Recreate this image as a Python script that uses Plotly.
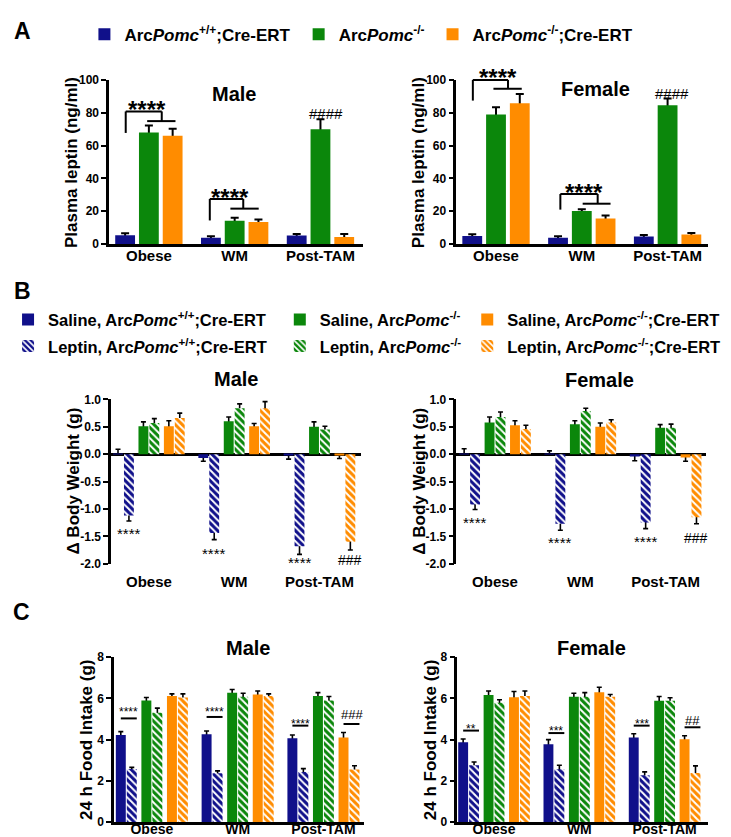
import plotly.graph_objects as go

W, H = 731, 837
FONT = "Liberation Sans, Arial, sans-serif"
BLUE = "#10108a"
GREEN = "#0b870b"
ORANGE = "#ff8c00"

groups = ["Obese", "WM", "Post-TAM"]

# ---------------- Panel A: plasma leptin (ng/ml) ----------------
a_male_wt = [5.4, 3.8, 5.2]
a_male_wt_err = [1.2, 1.0, 1.0]
a_male_ko = [68.0, 14.2, 70.0]
a_male_ko_err = [4.2, 1.8, 6.0]
a_male_kocre = [66.0, 13.4, 4.4]
a_male_kocre_err = [4.2, 1.6, 1.8]

a_female_wt = [5.0, 3.8, 4.6]
a_female_wt_err = [1.0, 1.0, 1.0]
a_female_ko = [79.0, 20.2, 84.6]
a_female_ko_err = [4.4, 1.0, 4.0]
a_female_kocre = [85.8, 15.6, 5.8]
a_female_kocre_err = [5.6, 1.8, 1.0]

# ---------------- Panel B: delta body weight (g) ----------------
b_male_sal_wt = [0.01, -0.07, -0.02]
b_male_sal_wt_err = [0.08, 0.06, 0.07]
b_male_lep_wt = [-1.12, -1.44, -1.68]
b_male_lep_wt_err = [0.10, 0.12, 0.15]
b_male_sal_ko = [0.51, 0.60, 0.50]
b_male_sal_ko_err = [0.08, 0.08, 0.09]
b_male_lep_ko = [0.57, 0.84, 0.45]
b_male_lep_ko_err = [0.08, 0.08, 0.06]
b_male_sal_kocre = [0.51, 0.51, -0.02]
b_male_sal_kocre_err = [0.10, 0.05, 0.06]
b_male_lep_kocre = [0.66, 0.84, -1.60]
b_male_lep_kocre_err = [0.09, 0.12, 0.15]

b_female_sal_wt = [0.01, 0.01, -0.04]
b_female_sal_wt_err = [0.09, 0.05, 0.08]
b_female_lep_wt = [-0.92, -1.27, -1.25]
b_female_lep_wt_err = [0.09, 0.12, 0.11]
b_female_sal_ko = [0.58, 0.545, 0.485]
b_female_sal_ko_err = [0.10, 0.065, 0.055]
b_female_lep_ko = [0.68, 0.79, 0.485]
b_female_lep_ko_err = [0.09, 0.05, 0.065]
b_female_sal_kocre = [0.53, 0.50, -0.06]
b_female_sal_kocre_err = [0.08, 0.07, 0.07]
b_female_lep_kocre = [0.46, 0.58, -1.15]
b_female_lep_kocre_err = [0.07, 0.05, 0.12]

b_ytick_vals = [-2.0, -1.5, -1.0, -0.5, 0.0, 0.5, 1.0]
b_ytick_text = ["-2.0", "-1.5", "-1.0", "-0.5", "0.0", "0.5", "1.0"]

# ---------------- Panel C: 24 h food intake (g) ----------------
c_male_sal_wt = [4.23, 4.26, 4.07]
c_male_sal_wt_err = [0.16, 0.16, 0.16]
c_male_lep_wt = [2.58, 2.38, 2.44]
c_male_lep_wt_err = [0.08, 0.11, 0.16]
c_male_sal_ko = [5.90, 6.27, 6.11]
c_male_sal_ko_err = [0.14, 0.16, 0.17]
c_male_lep_ko = [5.31, 6.08, 5.90]
c_male_lep_ko_err = [0.22, 0.17, 0.19]
c_male_sal_kocre = [6.11, 6.19, 4.11]
c_male_sal_kocre_err = [0.11, 0.17, 0.24]
c_male_lep_kocre = [6.04, 6.12, 2.55]
c_male_lep_kocre_err = [0.18, 0.10, 0.19]

c_female_sal_wt = [3.88, 3.78, 4.10]
c_female_sal_wt_err = [0.15, 0.22, 0.19]
c_female_lep_wt = [2.76, 2.57, 2.28]
c_female_lep_wt_err = [0.16, 0.19, 0.16]
c_female_sal_ko = [6.16, 6.08, 5.89]
c_female_sal_ko_err = [0.20, 0.17, 0.20]
c_female_lep_ko = [5.79, 6.08, 5.89]
c_female_lep_ko_err = [0.14, 0.20, 0.14]
c_female_sal_kocre = [6.06, 6.30, 4.02]
c_female_sal_kocre_err = [0.27, 0.24, 0.17]
c_female_lep_kocre = [6.12, 6.08, 2.39]
c_female_lep_kocre_err = [0.24, 0.11, 0.34]

lab_wt = "Arc<i>Pomc</i><sup>+/+</sup>;Cre-ERT"
lab_ko = "Arc<i>Pomc</i><sup>-/-</sup>"
lab_kocre = "Arc<i>Pomc</i><sup>-/-</sup>;Cre-ERT"

# ---------------- layout geometry (pixels) ----------------
panels = {
    "A_m": dict(n=1, xd=(96, 352), yd=(66, 233), c0=136, step=86.5, yr=(0, 100)),
    "A_f": dict(n=2, xd=(446, 700), yd=(66, 233), c0=486, step=86.5, yr=(0, 100)),
    "B_m": dict(n=3, xd=(98, 350), yd=(391, 558), c0=136, step=86.0, yr=(-2, 1)),
    "B_f": dict(n=4, xd=(446, 698), yd=(391, 558), c0=485, step=86.0, yr=(-2, 1)),
    "C_m": dict(n=5, xd=(101, 353), yd=(653, 821), c0=139, step=86.5, yr=(0, 8)),
    "C_f": dict(n=6, xd=(447, 700), yd=(653, 821), c0=484, step=86.0, yr=(0, 8)),
}


def ax_ids(p):
    n = p["n"]
    return ("x" if n == 1 else f"x{n}"), ("y" if n == 1 else f"y{n}")


def xp(p, xv):
    return (p["c0"] + xv * p["step"]) / W


def yp(p, yv):
    r0, r1 = p["yr"]
    y0, y1 = p["yd"]
    py = y1 - (yv - r0) / (r1 - r0) * (y1 - y0)
    return 1 - py / H


fig = go.Figure()

A_W = 0.231
A_OFF = [-0.277, 0.0, 0.277]
BC_W = 0.116
PAIR = [-0.298, 0.0, 0.298]
INNER = [-0.064, 0.064]


def add_series(p, vals, errs, color, width, center, name, hatched, legend, show, eth, ew):
    xa, ya = ax_ids(p)
    up = [e if v >= 0 else abs(v) for v, e in zip(vals, errs)]
    dn = [v if v >= 0 else e for v, e in zip(vals, errs)]
    fig.add_trace(go.Bar(
        x=groups, y=vals, width=width, offset=center - width / 2, xaxis=xa, yaxis=ya,
        marker=dict(color="rgba(0,0,0,0)", line=dict(width=0)),
        error_y=dict(type="data", symmetric=False, array=up, arrayminus=dn,
                     color="black", thickness=eth, width=ew),
        showlegend=False, hoverinfo="skip"))
    marker = dict(color=color, line=dict(width=0))
    if hatched:
        marker["pattern"] = dict(shape="\\", fgcolor="white", bgcolor=color,
                                 size=5, solidity=0.4, fillmode="replace")
    fig.add_trace(go.Bar(
        x=groups, y=vals, width=width, offset=center - width / 2, xaxis=xa, yaxis=ya,
        marker=marker, name=name, legend=legend, showlegend=show))


# Panel A traces
for key, data in [("A_m", [(a_male_wt, a_male_wt_err), (a_male_ko, a_male_ko_err), (a_male_kocre, a_male_kocre_err)]),
                  ("A_f", [(a_female_wt, a_female_wt_err), (a_female_ko, a_female_ko_err), (a_female_kocre, a_female_kocre_err)])]:
    p = panels[key]
    for k, ((v, e), col, lab, lg) in enumerate(zip(data, [BLUE, GREEN, ORANGE], [lab_wt, lab_ko, lab_kocre],
                                                  ["legend", "legend2", "legend3"])):
        add_series(p, v, e, col, A_W, A_OFF[k], lab, False, lg, key == "A_m", 2, 4)

# Panels B and C traces
bc_sets = {
    "B_m": [(b_male_sal_wt, b_male_sal_wt_err), (b_male_lep_wt, b_male_lep_wt_err),
            (b_male_sal_ko, b_male_sal_ko_err), (b_male_lep_ko, b_male_lep_ko_err),
            (b_male_sal_kocre, b_male_sal_kocre_err), (b_male_lep_kocre, b_male_lep_kocre_err)],
    "B_f": [(b_female_sal_wt, b_female_sal_wt_err), (b_female_lep_wt, b_female_lep_wt_err),
            (b_female_sal_ko, b_female_sal_ko_err), (b_female_lep_ko, b_female_lep_ko_err),
            (b_female_sal_kocre, b_female_sal_kocre_err), (b_female_lep_kocre, b_female_lep_kocre_err)],
    "C_m": [(c_male_sal_wt, c_male_sal_wt_err), (c_male_lep_wt, c_male_lep_wt_err),
            (c_male_sal_ko, c_male_sal_ko_err), (c_male_lep_ko, c_male_lep_ko_err),
            (c_male_sal_kocre, c_male_sal_kocre_err), (c_male_lep_kocre, c_male_lep_kocre_err)],
    "C_f": [(c_female_sal_wt, c_female_sal_wt_err), (c_female_lep_wt, c_female_lep_wt_err),
            (c_female_sal_ko, c_female_sal_ko_err), (c_female_lep_ko, c_female_lep_ko_err),
            (c_female_sal_kocre, c_female_sal_kocre_err), (c_female_lep_kocre, c_female_lep_kocre_err)],
}
colors6 = [BLUE, BLUE, GREEN, GREEN, ORANGE, ORANGE]
labs = [lab_wt, lab_ko, lab_kocre]
legs6 = ["legend4", "legend7", "legend5", "legend8", "legend6", "legend9"]
for key, data in bc_sets.items():
    p = panels[key]
    for k, (v, e) in enumerate(data):
        hatched = k % 2 == 1
        center = PAIR[k // 2] + INNER[k % 2]
        name = ("Leptin, " if hatched else "Saline, ") + labs[k // 2]
        add_series(p, v, e, colors6[k], BC_W, center, name, hatched, legs6[k], key == "B_m", 1.6, 2.5)

# ---------------- axes ----------------
layout = dict(width=W, height=H, margin=dict(l=0, r=0, t=0, b=0),
              paper_bgcolor="white", plot_bgcolor="white", barmode="overlay",
              font=dict(family=FONT, color="black"), showlegend=True)

for key, p in panels.items():
    n = p["n"]
    xa_name = "xaxis" if n == 1 else f"xaxis{n}"
    ya_name = "yaxis" if n == 1 else f"yaxis{n}"
    xa, ya = ax_ids(p)
    x0, x1 = p["xd"]
    y0, y1 = p["yd"]
    kind = key[0]
    standoff = {"A": -4, "B": 7, "C": -8}[kind]
    xfs = 14 if kind == "C" else 15
    layout[xa_name] = dict(
        domain=[x0 / W, x1 / W], anchor=ya, type="category",
        range=[-(p["c0"] - x0) / p["step"], (x1 - p["c0"]) / p["step"]],
        showline=(kind != "B"), linecolor="black", linewidth=2.5,
        ticks="", showgrid=False, zeroline=False, fixedrange=True,
        ticklabelstandoff=standoff,
        tickfont=dict(size=xfs, family=FONT, color="black", weight="bold"))
    yax = dict(
        domain=[1 - y1 / H, 1 - y0 / H], anchor=xa, range=list(p["yr"]),
        showline=True, linecolor="black", linewidth=2.5, showgrid=False,
        ticks="outside", ticklen=5, tickwidth=2, tickcolor="black", fixedrange=True,
        tickfont=dict(size=12, family=FONT, color="black", weight="bold"), zeroline=False)
    if kind == "A":
        yax.update(tick0=0, dtick=20)
    elif kind == "B":
        yax.update(tickvals=b_ytick_vals, ticktext=b_ytick_text,
                   zeroline=True, zerolinecolor="black", zerolinewidth=2.5)
    else:
        yax.update(tick0=0, dtick=2)
    layout[ya_name] = yax

# ---------------- legends ----------------
leg_pos = {
    "legend": (120, 20, 17), "legend2": (336, 20, 17), "legend3": (471, 20, 17),
    "legend4": (43, 310, 16.5), "legend5": (317, 310, 16.5), "legend6": (506, 310, 16.5),
    "legend7": (43, 337, 16.5), "legend8": (317, 337, 16.5), "legend9": (506, 337, 16.5),
}
for lg, (tx, ty, fs) in leg_pos.items():
    layout[lg] = dict(x=(tx - 49) / W, y=1 - ty / H, xanchor="left", yanchor="middle",
                      bgcolor="rgba(0,0,0,0)", borderwidth=0,
                      font=dict(size=fs, family=FONT, color="black", weight="bold"),
                      itemclick=False, itemdoubleclick=False)

fig.update_layout(**layout)

# ---------------- text annotations ----------------
ann = []


def pix_text(text, x, y, size, bold=True, angle=0):
    ann.append(dict(text=text, x=x / W, y=1 - y / H, xref="paper", yref="paper",
                    showarrow=False, textangle=angle, xanchor="center", yanchor="middle",
                    font=dict(size=size, family=FONT, color="black",
                              weight=("bold" if bold else "normal"))))


# panel letters
pix_text("A", 9, 16, 23)
pix_text("B", 9, 281, 23)
pix_text("C", 8, 607, 23)
# subplot titles
pix_text("Male", 222, 80, 20)
pix_text("Female", 586, 75, 20)
pix_text("Male", 224, 370, 20)
pix_text("Female", 590, 371, 20)
pix_text("Male", 236, 644, 20)
pix_text("Female", 582, 644, 20)
# y-axis titles
pix_text("Plasma leptin (ng/ml)", 58, 150, 17, angle=-90)
pix_text("Plasma leptin (ng/ml)", 408, 150, 17, angle=-90)
pix_text("Δ Body Weight (g)", 60, 474, 17, angle=-90)
pix_text("Δ Body Weight (g)", 408, 474, 17, angle=-90)
pix_text("24 h Food Intake (g)", 73, 737, 17, angle=-90)
pix_text("24 h Food Intake (g)", 420, 737, 17, angle=-90)


def sig(key, text, xv, yv, size, shift, bold=False):
    p = panels[key]
    ann.append(dict(text=text, x=xp(p, xv), y=yp(p, yv), xref="paper", yref="paper",
                    showarrow=False, xanchor="center", yanchor="middle", yshift=shift,
                    font=dict(size=size, family=FONT, color="black",
                              weight=("bold" if bold else "normal"))))


shapes = []


def seg(key, pts, w=2):
    p = panels[key]
    for (xa_, ya_), (xb, yb) in zip(pts[:-1], pts[1:]):
        shapes.append(dict(type="line", xref="paper", yref="paper",
                           x0=xp(p, xa_), y0=yp(p, ya_), x1=xp(p, xb), y1=yp(p, yb),
                           line=dict(color="black", width=w)))


# Panel A significance
sig("A_m", "****", -0.02, 86.8, 24, -8, True)
seg("A_m", [(-0.27, 67.7), (-0.27, 80.8), (0.15, 80.8), (0.15, 74.9)])
seg("A_m", [(-0.02, 74.9), (0.31, 74.9)])
sig("A_m", "****", 0.94, 33.0, 24, -8, True)
seg("A_m", [(0.71, 14.4), (0.71, 27.5), (1.10, 27.5), (1.10, 21.6)])
seg("A_m", [(0.95, 21.6), (1.28, 21.6)])
sig("A_m", "####", 2.07, 81.0, 15, -2)

sig("A_f", "****", 0.02, 106.6, 24, -8, True)
seg("A_f", [(-0.27, 87.4), (-0.27, 100.0), (0.14, 100.0), (0.14, 94.6)])
seg("A_f", [(-0.03, 94.6), (0.30, 94.6)])
sig("A_f", "****", 1.02, 36.0, 24, -8, True)
seg("A_f", [(0.75, 21.0), (0.75, 30.5), (1.185, 30.5), (1.185, 24.6)])
seg("A_f", [(1.01, 24.6), (1.335, 24.6)])
sig("A_f", "####", 2.05, 93.0, 15, -2)

# Panel B significance
lep_wt_x = PAIR[0] + INNER[1]
lep_kocre_x = PAIR[2] + INNER[1]
sig("B_m", "****", 0 + lep_wt_x, -1.37, 15, -4)
sig("B_m", "****", 1 + lep_wt_x, -1.74, 15, -4)
sig("B_m", "****", 2 + lep_wt_x, -1.95, 15, -2)
sig("B_m", "###", 2 + lep_kocre_x, -1.94, 14, 0)
sig("B_f", "****", 0 + lep_wt_x, -1.18, 15, -4)
sig("B_f", "****", 1 + lep_wt_x, -1.54, 15, -4)
sig("B_f", "****", 2 + lep_wt_x, -1.53, 15, -4)
sig("B_f", "###", 2 + lep_kocre_x, -1.51, 14, -1)


# Panel C significance
def pair_mark(key, g, pair, text, ty, ly, size, shift):
    c = g + PAIR[pair]
    sig(key, text, c + 0.03, ty, size, shift)
    seg(key, [(c - 0.064, ly), (c + 0.122, ly)], 2)


pair_mark("C_m", 0, 0, "****", 5.52, 5.03, 12, -4)
pair_mark("C_m", 1, 0, "****", 5.52, 5.10, 12, -4)
pair_mark("C_m", 2, 0, "****", 4.96, 4.68, 12, -4)
pair_mark("C_m", 2, 2, "###", 5.28, 4.76, 13, -1)
pair_mark("C_f", 0, 0, "**", 4.72, 4.44, 12, -4)
pair_mark("C_f", 1, 0, "***", 4.63, 4.32, 12, -4)
pair_mark("C_f", 2, 0, "***", 4.96, 4.68, 12, -4)
pair_mark("C_f", 2, 2, "##", 4.96, 4.60, 13, -1)

fig.update_layout(annotations=ann, shapes=shapes)
fig.write_html("out.html")
